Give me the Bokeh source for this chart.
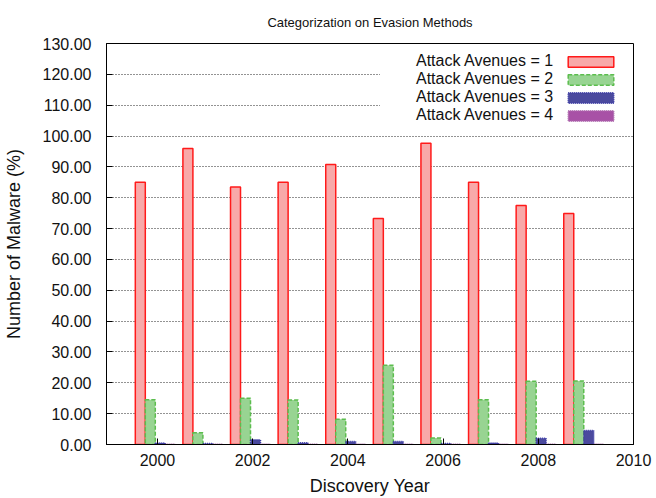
from bokeh.plotting import figure
from bokeh.models import (ColumnDataSource, Legend, LegendItem,
                          FixedTicker, SingleIntervalTicker, NumeralTickFormatter, Range1d)
from bokeh.transform import dodge
from bokeh.embed import file_html
from bokeh.resources import INLINE

# ---- data -------------------------------------------------------------
years = [2000, 2001, 2002, 2003, 2004, 2005, 2006, 2007, 2008, 2009]
avenues_1 = [85.0, 96.0, 83.5, 85.0, 90.8, 73.3, 97.7, 85.0, 77.5, 74.9]
avenues_2 = [14.5, 3.8, 15.0, 14.4, 8.2, 25.7, 2.1, 14.5, 20.5, 20.6]
avenues_3 = [0.5, 0.3, 1.5, 0.6, 1.0, 1.0, 0.3, 0.5, 2.0, 4.5]
avenues_4 = [0.1, 0.1, 0.1, 0.1, 0.1, 0.1, 0.1, 0.1, 0.1, 0.1]
series_labels = ["Attack Avenues = 1", "Attack Avenues = 2",
                 "Attack Avenues = 3", "Attack Avenues = 4"]
x_ticks = [2000, 2002, 2004, 2006, 2008, 2010]
title_text = "Categorization on Evasion Methods"

FONT = "Liberation Sans"
FRAME_H = 401

source = ColumnDataSource(dict(year=years, a1=avenues_1, a2=avenues_2,
                               a3=avenues_3, a4=avenues_4))

p = figure(width=656, height=498, output_backend="svg", toolbar_location=None,
           x_range=Range1d(1998.93, 2010), y_range=Range1d(0, 130),
           min_border_left=106, min_border_right=23, min_border_top=43,
           min_border_bottom=54)

p.title.text = title_text
p.title.align = "center"
p.title.vertical_align = "top"
p.title.text_font = FONT
p.title.text_font_size = "13px"
p.title.text_font_style = "normal"
p.title.text_color = "#111111"
p.title.standoff = 24

bw = 0.21
styles = [
    ("a1", -0.36, "#f8a9a9", "#ff1a1a", "solid"),
    ("a2", -0.15, "#98d492", "#5cbd4e", "4 2"),
    ("a3", 0.06, "#4b4a9e", "#3a3aa6", "1 1"),
    ("a4", 0.27, "#a851a6", "#b070b0", "1 1"),
]
renderers = []
for col, off, fill, line, dash in styles:
    r = p.vbar(x=dodge("year", off, range=p.x_range), top=col, width=bw,
               bottom=0, source=source, fill_color=fill, line_color=line,
               line_width=1.5, line_dash=dash)
    renderers.append(r)

# axes
p.xaxis.ticker = FixedTicker(ticks=x_ticks)
p.yaxis.ticker = SingleIntervalTicker(interval=10)
p.yaxis.formatter = NumeralTickFormatter(format="0.00")
for ax in (p.xaxis[0], p.yaxis[0]):
    ax.major_tick_in = 6
    ax.major_tick_out = 0
    ax.minor_tick_line_color = None
    ax.axis_line_color = "black"
    ax.major_tick_line_color = "black"
    ax.major_label_text_font = FONT
    ax.major_label_text_font_size = "16px"
    ax.major_label_text_color = "#111111"
    ax.axis_label_text_font = FONT
    ax.axis_label_text_font_size = "18px"
    ax.axis_label_text_font_style = "normal"
    ax.axis_label_text_color = "#111111"
p.xaxis.axis_label = "Discovery Year"
p.yaxis.axis_label = "Number of Malware (%)"
p.xaxis.major_label_standoff = 9
p.xaxis.axis_label_standoff = 7
p.yaxis.major_label_standoff = 11
p.yaxis.axis_label_standoff = 16

p.xgrid.grid_line_color = None
p.ygrid.grid_line_color = "black"
p.ygrid.grid_line_dash = "1 2"
p.ygrid.grid_line_alpha = 0.85
p.ygrid.ticker = SingleIntervalTicker(interval=10)

p.outline_line_color = "black"
p.outline_line_width = 1
p.outline_line_alpha = 1
p.background_fill_color = "white"
p.border_fill_color = "white"

# legend: labels on the left, swatches on the right
leg_h = 2 * 6 + 4 * 18
legend_text = Legend(
    items=[LegendItem(label=lab) for lab in series_labels],
    location=(274, FRAME_H - 3 - leg_h), orientation="vertical",
    glyph_width=30, glyph_height=13, label_height=18, label_standoff=0,
    spacing=0, padding=6, margin=0, border_line_alpha=0,
    background_fill_color="white", background_fill_alpha=1,
    label_text_font=FONT, label_text_font_size="16px",
    label_text_color="#111111")
legend_glyph = Legend(
    items=[LegendItem(label="", renderers=[r]) for r in renderers],
    location=(450, FRAME_H - 3 - leg_h), orientation="vertical",
    glyph_width=57, glyph_height=13, label_height=18, label_standoff=0,
    spacing=0, padding=6, margin=0, border_line_alpha=0,
    background_fill_color="white", background_fill_alpha=1,
    label_text_font=FONT, label_text_font_size="16px")
p.add_layout(legend_text)
p.add_layout(legend_glyph)

open("out.html", "w").write(file_html(p, INLINE))
